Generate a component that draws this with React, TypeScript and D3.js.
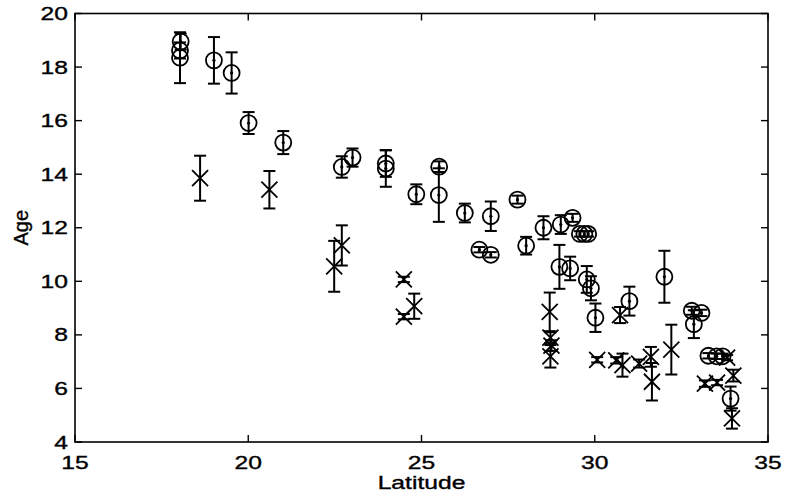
import React, { useRef, useEffect } from 'react';
import * as d3 from 'd3';

// circles (first group)
const circleLat = [18.05, 18.03, 18.03, 19.01, 19.52, 20.01, 21.01, 22.7, 23.01, 23.97, 23.97, 24.85, 25.51, 25.5,
    26.25, 26.67, 27.0, 27.0, 27.77, 28.02, 28.52, 29.02, 29.36, 29.57, 29.7, 29.81, 28.98, 29.29, 29.77, 29.89,
    30.02, 31.0, 32.01, 32.8, 33.08, 32.86, 33.28, 33.52, 33.69, 33.92];
const circleAge = [18.95, 18.62, 18.35, 18.25, 17.78, 15.91, 15.18, 14.27, 14.62, 14.4, 14.21, 13.25, 14.28, 13.22,
    12.55, 11.18, 12.43, 10.99, 13.05, 11.33, 12.0, 12.12, 12.37, 11.77, 11.77, 11.77, 10.54, 10.48, 10.07, 9.74,
    8.64, 9.26, 10.17, 8.9, 8.82, 8.4, 7.22, 7.2, 7.2, 5.62];
const circleErr = [0.3, 0.3, 0.95, 0.87, 0.77, 0.41, 0.43, 0.4, 0.34, 0.5, 0.68, 0.37, 0.2, 1.0,
    0.35, 0.1, 0.55, 0.1, 0.15, 0.33, 0.43, 0.35, 0.15, 0.1, 0.1, 0.1, 0.82, 0.44, 0.5, 0.45,
    0.53, 0.54, 0.97, 0.15, 0.12, 0.52, 0.1, 0.1, 0.1, 0.45];

// crosses (second group)
const crossLat = [18.61, 20.61, 22.48, 22.7, 24.49, 24.49, 24.79, 28.7, 28.72, 28.75, 28.72, 30.07, 30.62, 30.8,
    30.73, 31.28, 31.62, 31.65, 32.21, 33.18, 33.53, 33.82, 34.0, 33.96];
const crossAge = [13.85, 13.42, 10.56, 11.34, 10.07, 8.68, 9.07, 8.86, 7.9, 7.6, 7.2, 7.07, 7.05, 6.87,
    8.74, 6.93, 7.18, 6.25, 7.45, 6.18, 6.22, 7.15, 6.48, 4.88];
const crossErr = [0.84, 0.7, 0.95, 0.75, 0.1, 0.1, 0.47, 0.72, 0.2, 0.2, 0.42, 0.1, 0.12, 0.43,
    0.3, 0.15, 0.37, 0.7, 0.93, 0.12, 0.1, 0.1, 0.22, 0.38];

const xTicks = [15, 20, 25, 30, 35];
const yTicks = [4, 6, 8, 10, 12, 14, 16, 18, 20];

const App = () => {
    const ref = useRef(null);

    useEffect(() => {
        const width = 785;
        const height = 497;
        const left = 75, right = 768, top = 13.5, bottom = 442;
        const font = '"Liberation Sans", Arial, Helvetica, sans-serif';
        const sx = 1.37; // the scan is stretched sideways

        const svg = d3.select(ref.current)
            .attr('width', width)
            .attr('height', height);
        svg.selectAll('*').remove();

        const x = d3.scaleLinear().domain([15, 35]).range([left, right]);
        const y = d3.scaleLinear().domain([4, 20]).range([bottom, top]);

        const g = svg.append('g')
            .attr('stroke', '#000')
            .attr('fill', 'none');

        // box
        g.append('rect')
            .attr('x', left).attr('y', top)
            .attr('width', right - left).attr('height', bottom - top)
            .attr('stroke-width', 1.6);

        // inward ticks on all sides
        const tl = 7;
        xTicks.forEach(t => {
            g.append('line').attr('x1', x(t)).attr('x2', x(t)).attr('y1', bottom).attr('y2', bottom - tl).attr('stroke-width', 1.4);
            g.append('line').attr('x1', x(t)).attr('x2', x(t)).attr('y1', top).attr('y2', top + tl).attr('stroke-width', 1.4);
        });
        yTicks.forEach(t => {
            g.append('line').attr('x1', left).attr('x2', left + tl).attr('y1', y(t)).attr('y2', y(t)).attr('stroke-width', 1.4);
            g.append('line').attr('x1', right).attr('x2', right - tl).attr('y1', y(t)).attr('y2', y(t)).attr('stroke-width', 1.4);
        });

        const txt = svg.append('g')
            .attr('font-family', font)
            .attr('font-size', 18)
            .attr('fill', '#000')
            .attr('stroke', '#000')
            .attr('stroke-width', 0.35);

        txt.selectAll('.xt')
            .data(xTicks)
            .enter().append('text')
            .attr('transform', d => `translate(${x(d)},469) scale(${sx},1)`)
            .attr('text-anchor', 'middle')
            .text(d => d);

        txt.selectAll('.yt')
            .data(yTicks)
            .enter().append('text')
            .attr('transform', d => `translate(68,${y(d) + 6.5}) scale(${sx},1)`)
            .attr('text-anchor', 'end')
            .text(d => d);

        txt.append('text')
            .attr('transform', `translate(${(left + right) / 2},489) scale(${sx},1)`)
            .attr('text-anchor', 'middle')
            .text('Latitude');

        txt.append('text')
            .attr('font-size', 20)
            .attr('transform', `translate(28,${(top + bottom) / 2}) rotate(-90)`)
            .attr('text-anchor', 'middle')
            .text('Age');

        const cap = 6;
        const drawErr = (lat, age, err) => {
            lat.forEach((d, i) => {
                const cx = x(d);
                const y1 = y(age[i] + err[i]);
                const y2 = y(age[i] - err[i]);
                g.append('line').attr('x1', cx).attr('x2', cx).attr('y1', y1).attr('y2', y2).attr('stroke-width', 2);
                g.append('line').attr('x1', cx - cap).attr('x2', cx + cap).attr('y1', y1).attr('y2', y1).attr('stroke-width', 2);
                g.append('line').attr('x1', cx - cap).attr('x2', cx + cap).attr('y1', y2).attr('y2', y2).attr('stroke-width', 2);
            });
        };
        drawErr(circleLat, circleAge, circleErr);
        drawErr(crossLat, crossAge, crossErr);

        circleLat.forEach((d, i) => {
            g.append('circle').attr('cx', x(d)).attr('cy', y(circleAge[i])).attr('r', 8).attr('stroke-width', 1.8);
            g.append('circle').attr('cx', x(d)).attr('cy', y(circleAge[i])).attr('r', 1.6).attr('fill', '#000').attr('stroke', 'none');
        });

        const s = 8;
        crossLat.forEach((d, i) => {
            const cx = x(d), cy = y(crossAge[i]);
            g.append('path')
                .attr('d', `M${cx - s},${cy - s}L${cx + s},${cy + s}M${cx - s},${cy + s}L${cx + s},${cy - s}`)
                .attr('stroke-width', 1.8);
        });
    }, []);

    return (
        <div style={{ position: 'absolute', left: 0, top: 0, background: '#fff' }}>
            <svg ref={ref}></svg>
        </div>
    );
};

export default App;
